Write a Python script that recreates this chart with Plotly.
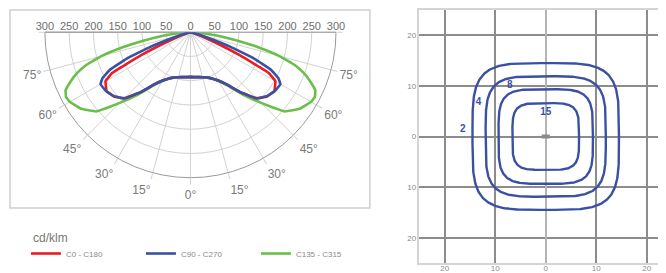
import numpy as np
import plotly.graph_objects as go

# ---------------- data ----------------
gamma = [0, 5, 10, 15, 20, 25, 30, 35, 40, 45, 50, 55, 60, 62.5, 65, 67.5, 70, 72.5, 75, 77.5, 80, 82.5, 85, 87.5, 90]
i_c0_c180 = [92, 93, 94, 96, 99, 105, 115, 132, 162, 192, 206, 211, 202, 182, 112, 58, 26, 10, 3, 1, 0, 0, 0, 0, 0]
i_c90_c270 = [92, 93, 94, 96, 99, 105, 115, 132, 162, 193, 205, 212, 214, 204, 183, 142, 88, 36, 12, 4, 0, 0, 0, 0, 0]
i_c135_c315 = [92, 93, 94, 96, 100, 106, 117, 135, 168, 206, 254, 275, 287, 289, 284, 268, 250, 226, 190, 143, 97, 57, 26, 8, 0]

series_names = ["C0 - C180", "C90 - C270", "C135 - C315"]
series_colors = ["#ec1c24", "#3a51a3", "#6abf4a"]

radial_ticks = [0, 50, 100, 150, 200, 250, 300]
angle_ticks = [0, 15, 30, 45, 60, 75, 90]
unit_label = "cd/klm"

# isolux diagram
iso_levels = [2, 4, 8, 15]
iso_halfsize = [14.5, 11.9, 9.35, 6.6]
iso_exponent = 4.2
iso_label_x = [-16.4, -13.3, -7.1, 0.0]
iso_label_y = [1.45, 6.7, 10.0, 4.75]
grid_ticks = [-20, -10, 0, 10, 20]
grid_labels = ["20", "10", "0", "10", "20"]
lum_w, lum_h = 1.6, 0.8

W, H = 666, 273
OFF = 8  # page body margin offset
FONT = "Liberation Sans, Arial, sans-serif"


def mirror(vals):
    return list(reversed(vals)) + list(vals)


# left half as 360 - gamma, right half as 360 + gamma (continuous angular coordinate)
theta_full = [360 - g for g in reversed(gamma)] + [360 + g for g in gamma]
ang_vals = [360 - g for g in reversed(angle_ticks[1:])] + [360 + g for g in angle_ticks]
ang_text = [("" if g == 90 else f"{g}°") for g in reversed(angle_ticks[1:])] + \
           [("" if g == 90 else f"{g}°") for g in angle_ticks]

fig = go.Figure()

curve_data = [i_c0_c180, i_c90_c270, i_c135_c315]
order = [2, 0, 1]
for k in order:
    fig.add_trace(go.Scatterpolar(
        r=mirror(curve_data[k]), theta=theta_full, mode="lines",
        line=dict(color=series_colors[k], width=2.6, shape="spline", smoothing=0.25),
        name=series_names[k], legendrank=k + 1,
        subplot="polar2" if k == 1 else "polar",
    ))

# isolux contours
t = np.linspace(0, 2 * np.pi, 400)
for lvl, a in zip(iso_levels, iso_halfsize):
    c, s = np.cos(t), np.sin(t)
    xs = a * np.sign(c) * np.abs(c) ** (2 / iso_exponent)
    ys = a * np.sign(s) * np.abs(s) ** (2 / iso_exponent)
    fig.add_trace(go.Scatter(x=xs, y=ys, mode="lines", line=dict(color="#3a51a3", width=2.4),
                             showlegend=False, hoverinfo="skip", xaxis="x", yaxis="y"))

fig.add_trace(go.Scatter(x=iso_label_x, y=iso_label_y, mode="text",
                         text=[str(v) for v in iso_levels],
                         textfont=dict(family=FONT, size=10, color="#3a51a3", weight="bold"),
                         showlegend=False, hoverinfo="skip", xaxis="x", yaxis="y"))

# polar geometry (figure pixels)
cx, cy, R = 191 - OFF, 32 - OFF, 146
pdom_x = [(cx - R) / W, (cx + R) / W]
pdom_y = [1 - (cy + R) / H, 1 - cy / H]

grid_c = "#d2d2d2"
common_ang = dict(rotation=270, direction="counterclockwise", thetaunit="degrees")

fig.update_layout(
    width=W, height=H,
    margin=dict(l=0, r=0, t=0, b=0),
    paper_bgcolor="white", plot_bgcolor="white",
    font=dict(family=FONT, color="#777777"),
    polar=dict(
        domain=dict(x=pdom_x, y=pdom_y), sector=[180, 360], bgcolor="rgba(0,0,0,0)",
        angularaxis=dict(**common_ang, tickmode="array", tickvals=ang_vals, ticktext=ang_text,
                         showgrid=True, gridcolor=grid_c, gridwidth=1,
                         showline=True, linecolor="#9a9a9a", linewidth=1,
                         ticks="outside", ticklen=6, tickcolor=grid_c,
                         tickfont=dict(size=12, color="#7a7a7a", family=FONT)),
        radialaxis=dict(range=[0, 300], tickmode="array", tickvals=radial_ticks,
                        ticktext=[str(v) for v in radial_ticks], angle=180, side="clockwise",
                        showgrid=True, gridcolor=grid_c, gridwidth=1,
                        showline=True, linecolor="#a0a0a0", linewidth=1, ticks="",
                        tickfont=dict(size=11, color="#6e6e6e", family=FONT)),
    ),
    polar2=dict(
        domain=dict(x=pdom_x, y=pdom_y), sector=[180, 360], bgcolor="rgba(0,0,0,0)",
        angularaxis=dict(**common_ang, showgrid=False, showline=False, showticklabels=False, ticks=""),
        radialaxis=dict(range=[0, 300], tickmode="array", tickvals=radial_ticks[1:],
                        ticktext=[str(v) for v in radial_ticks[1:]], angle=360, side="counterclockwise",
                        tickangle=0, showgrid=False, showline=False, ticks="",
                        tickfont=dict(size=11, color="#6e6e6e", family=FONT)),
    ),
    xaxis=dict(domain=[(420.7 - OFF) / W, 1.0], range=[-25, 25], tickmode="array", tickvals=grid_ticks,
               ticktext=grid_labels, showgrid=True, gridcolor="#8c8c8c", gridwidth=1.5,
               zeroline=True, zerolinecolor="#b4b4b4", zerolinewidth=1.5,
               showline=True, linecolor="#d4d4d4", linewidth=1.5, mirror=True, ticks="",
               ticklabelstandoff=-3,
               tickfont=dict(size=8, color="#8a8a8a", family=FONT), fixedrange=True),
    yaxis=dict(domain=[1 - (263 - OFF) / H, 1 - (10 - OFF) / H], range=[-25, 25], tickmode="array",
               tickvals=grid_ticks, ticktext=grid_labels, showgrid=True, gridcolor="#8c8c8c", gridwidth=1.5,
               zeroline=False, showline=True, linecolor="#d4d4d4", linewidth=1.5, mirror=True, ticks="",
               tickfont=dict(size=8, color="#8a8a8a", family=FONT), fixedrange=True),
    legend=dict(orientation="h", x=(26 - OFF) / W, y=1 - (239 - OFF) / H, xanchor="left", yanchor="top",
                font=dict(size=8, color="#8a8a8a", family=FONT),
                entrywidth=70, entrywidthmode="pixels", bgcolor="rgba(0,0,0,0)"),
    showlegend=True,
    annotations=[dict(text=unit_label, xref="paper", yref="paper", x=(31 - OFF) / W, y=1 - (238 - OFF) / H,
                      xanchor="left", yanchor="middle", showarrow=False,
                      font=dict(size=12, color="#777777", family=FONT))],
    shapes=[
        dict(type="rect", xref="paper", yref="paper", x0=(10 - OFF) / W, x1=(371 - OFF) / W,
             y0=1 - (208 - OFF) / H, y1=1 - (10 - OFF) / H,
             line=dict(color="#cfcfcf", width=1.5), layer="below"),
        dict(type="rect", xref="x", yref="y", x0=-lum_w / 2, x1=lum_w / 2, y0=-lum_h / 2, y1=lum_h / 2,
             fillcolor="#8a8a8a", line=dict(width=0)),
    ],
)

fig.write_html("out.html")
